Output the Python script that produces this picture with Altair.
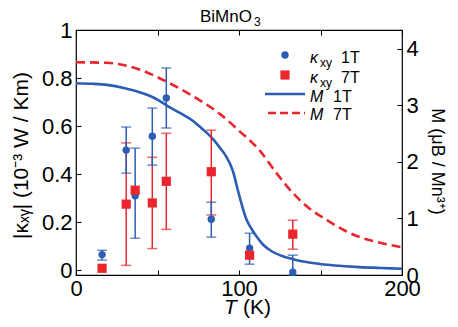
import altair as alt
import pandas as pd

FONT = "Liberation Sans"
BLUE = "#2C5DB3"
RED = "#E9262E"

# kappa_xy data (10^-3 W/Km)
T_pts = [16, 30.8, 36.3, 46.8, 55.4, 83, 106.5, 133]
k1 = [0.065, 0.50, 0.31, 0.558, 0.717, 0.2125, 0.092, -0.008]
k1_lo = [0.042, 0.404, 0.133, 0.4375, 0.592, 0.1375, 0.025, -0.02]
k1_hi = [0.083, 0.596, 0.508, 0.675, 0.842, 0.283, 0.154, 0.0625]
k7 = [0.008, 0.275, 0.333, 0.28, 0.37, 0.41, 0.0625, 0.15]
k7_lo = [None, 0.02, None, 0.09, 0.17, 0.23, None, 0.0875]
k7_hi = [None, 0.53, None, 0.47, 0.57, 0.583, None, 0.208]

# magnetization (mu_B / Mn3+)
T_m1 = [0, 10, 19, 30, 40, 50, 56, 64, 71, 76, 80, 85, 88, 92, 96, 100, 104.6,
        108, 111, 115, 120, 126, 133, 143, 154, 165, 174, 187, 200]
M_1T = [3.39, 3.38, 3.36, 3.30, 3.22, 3.10, 2.99, 2.86, 2.74, 2.62, 2.52, 2.37,
        2.26, 2.10, 1.86, 1.42, 0.98, 0.80, 0.67, 0.53, 0.42, 0.34, 0.28, 0.22,
        0.18, 0.155, 0.14, 0.125, 0.11]
T_m7 = [0, 19, 40, 56, 73, 89, 100, 113, 123, 133, 143, 154, 164, 174, 185, 200]
M_7T = [3.76, 3.75, 3.62, 3.41, 3.14, 2.83, 2.55, 2.19, 1.80, 1.45, 1.18, 0.97,
        0.80, 0.67, 0.58, 0.49]

x_vals = [0, 50, 100, 150, 200]
yl_vals = [round(i * 0.1, 1) for i in range(11)]
yr_vals = [i * 0.5 for i in range(9)]

W, H = 326, 245

kdf1 = pd.DataFrame({"T": T_pts, "k": k1, "lo": k1_lo, "hi": k1_hi})
kdf7 = pd.DataFrame({"T": T_pts, "k": k7, "lo": k7_lo, "hi": k7_hi})
mdf1 = pd.DataFrame({"T": T_m1, "M": M_1T})
mdf7 = pd.DataFrame({"T": T_m7, "M": M_7T})
one = pd.DataFrame({"a": [0]})

common = dict(ticks=False, domain=False, labelFont=FONT, labelFontSize=22,
              labelColor="black", labelFlush=False, labelOverlap=False,
              grid=True, gridColor="black", gridWidth=1)

xscale = alt.Scale(domain=[0, 200], nice=False, zero=False)
xaxis = alt.Axis(values=x_vals, labelExpr="datum.value % 100 == 0 ? datum.label : ''",
                 gridDash=[5, H - 10, 5, 1000], labelPadding=3, title=None, **common)
X = alt.X("T:Q", scale=xscale, axis=xaxis)

lscale = alt.Scale(domain=[-0.02, 1.0], nice=False, zero=False)
laxis = alt.Axis(values=yl_vals,
                 labelExpr="round(datum.value*10) % 2 == 0 ? format(datum.value, '~g') : ''",
                 gridDash=[5, 1000], labelPadding=4,
                 title="|κₓᵧ| (10⁻³ W / Km)", titleFont=FONT, titleFontSize=21,
                 titleFontWeight="normal", titleColor="black", titleAngle=270,
                 titleX=-55, titleY=125, titleAlign="center", titleBaseline="middle",
                 **common)

rscale = alt.Scale(domain=[0, 4.33], nice=False, zero=False)
raxis = alt.Axis(orient="right", values=yr_vals,
                 labelExpr="datum.value % 1 == 0 ? format(datum.value, 'd') : ''",
                 gridDash=[5, 1000], labelPadding=4,
                 title="M (μB / Mn³⁺)", titleFont=FONT, titleFontSize=18,
                 titleFontWeight="normal", titleColor="black", titleAngle=90,
                 titleX=34, titleY=131, titleAlign="center", titleBaseline="middle",
                 **common)

# M lines (right axis)
m1 = alt.Chart(mdf1).mark_line(color=BLUE, strokeWidth=2.6, interpolate="monotone").encode(
    x=X, y=alt.Y("M:Q", scale=rscale, axis=raxis))
m7 = alt.Chart(mdf7).mark_line(color=RED, strokeWidth=2.6, strokeDash=[9, 5],
                               interpolate="monotone").encode(
    x=alt.X("T:Q"), y=alt.Y("M:Q"))
right = alt.layer(m1, m7)

Yk = alt.Y("k:Q", scale=lscale, axis=laxis)


def bars(df, color):
    base = alt.Chart(df).transform_filter("isValid(datum.lo)")
    r = base.mark_rule(color=color, strokeWidth=1.5).encode(
        x=alt.X("T:Q"), y=alt.Y("lo:Q"), y2="hi:Q")
    c1 = base.mark_tick(color=color, orient="horizontal", size=10, thickness=1.5).encode(
        x=alt.X("T:Q"), y=alt.Y("lo:Q"))
    c2 = base.mark_tick(color=color, orient="horizontal", size=10, thickness=1.5).encode(
        x=alt.X("T:Q"), y=alt.Y("hi:Q"))
    return [r, c1, c2]


pts1 = alt.Chart(kdf1).mark_point(filled=True, shape="circle", size=55, opacity=1,
                                  color=BLUE).encode(x=X, y=Yk)
pts7 = alt.Chart(kdf7).mark_square(size=85, opacity=1, color=RED).encode(
    x=alt.X("T:Q"), y=alt.Y("k:Q"))


def txt(s, x, y, size, italic=False, align="left", color="black"):
    return alt.Chart(one).mark_text(text=s, font=FONT, fontSize=size,
                                    fontStyle="italic" if italic else "normal",
                                    align=align, baseline="alphabetic", color=color).encode(
        x=alt.value(x), y=alt.value(y))


legend = [
    alt.Chart(one).mark_point(filled=True, shape="circle", size=55, opacity=1, color=BLUE).encode(
        x=alt.value(209), y=alt.value(25)),
    alt.Chart(one).mark_square(size=85, opacity=1, color=RED).encode(
        x=alt.value(209), y=alt.value(45)),
    alt.Chart(one).mark_rule(color=BLUE, strokeWidth=2.6).encode(
        x=alt.value(189), x2=alt.value(229), y=alt.value(64)),
    alt.Chart(one).mark_rule(color=RED, strokeWidth=2.6, strokeDash=[8, 4]).encode(
        x=alt.value(192), x2=alt.value(229), y=alt.value(83)),
    txt("κ", 234, 33, 16, italic=True), txt("xy", 244, 37, 12), txt("1T", 265, 33, 16),
    txt("κ", 234, 53, 16, italic=True), txt("xy", 244, 57, 12), txt("7T", 265, 53, 16),
    txt("M", 234, 71.5, 16, italic=True), txt("1T", 257, 71.5, 16),
    txt("M", 234, 90, 16, italic=True), txt("7T", 257, 90, 16),
    # chart title
    txt("BiMnO", 124, -8, 17), txt("3", 178, -4, 12),
    # x title
    txt("T", 148, 284, 21, italic=True), txt("(K)", 167, 284, 21),
]

left = alt.layer(*bars(kdf7, RED), *bars(kdf1, BLUE), pts1, pts7, *legend)

chart = alt.layer(right, left).resolve_scale(y="independent").properties(
    width=W, height=H,
    autosize=alt.AutoSizeParams(type="none"),
    padding={"left": 68, "top": 22, "right": 48, "bottom": 44},
).configure_view(stroke="black", strokeWidth=1.2)

chart.save("out.html", embed_options={"renderer": "svg", "actions": False})
